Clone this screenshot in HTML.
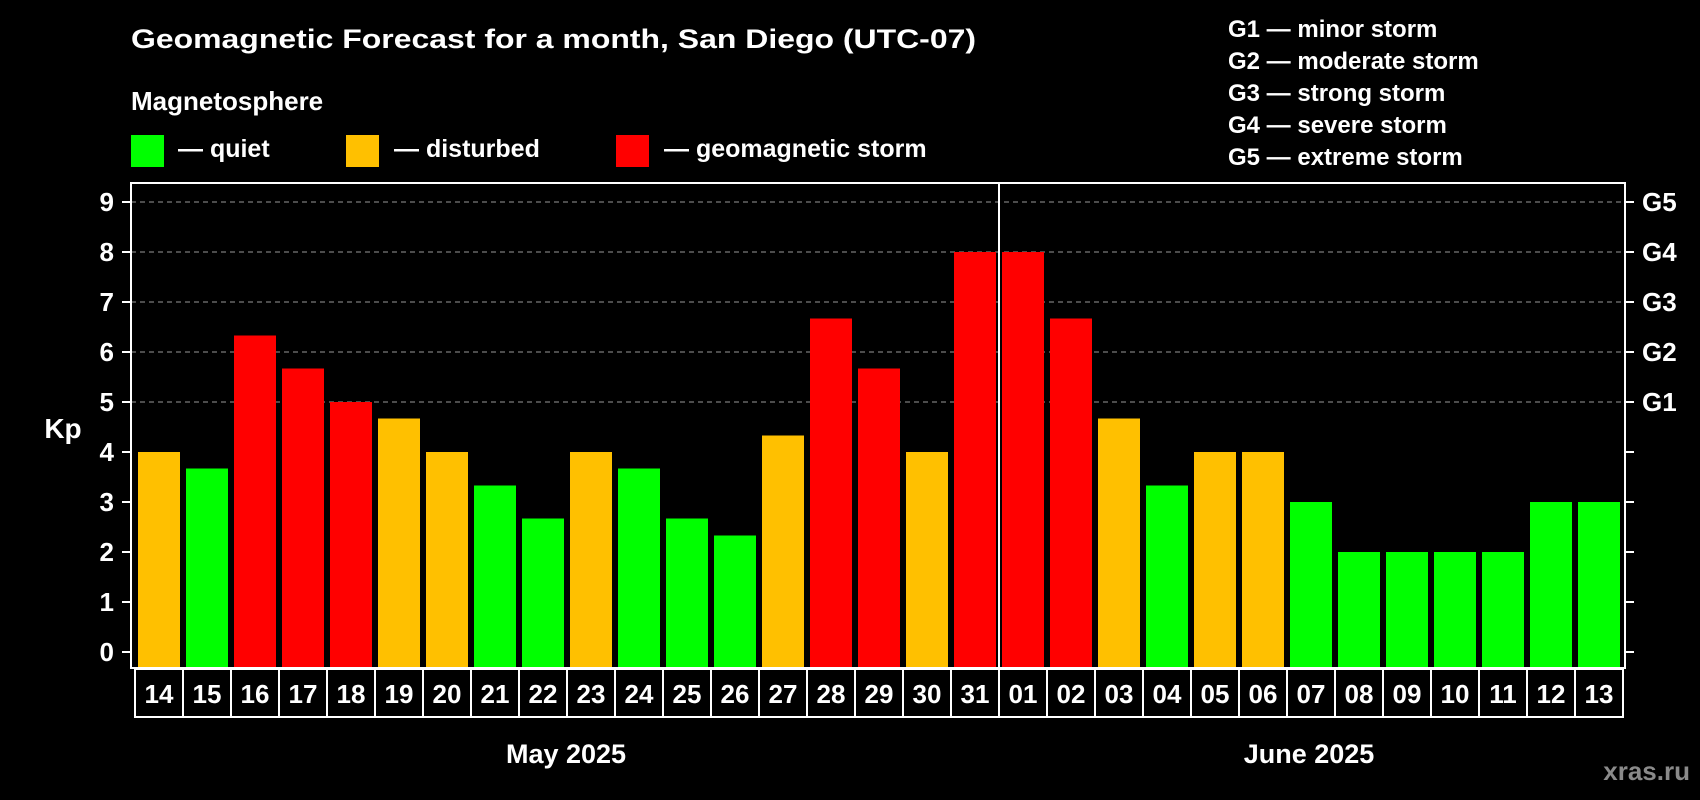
<!DOCTYPE html>
<html><head><meta charset="utf-8"><style>
html,body{margin:0;padding:0;background:#000;}
svg{display:block;font-family:"Liberation Sans",Arial,sans-serif;font-weight:bold;}
</style></head><body>
<svg id="chart" width="1700" height="800" viewBox="0 0 1700 800" xmlns="http://www.w3.org/2000/svg">
<rect x="0" y="0" width="1700" height="800" fill="#000"/>
<text x="131" y="48" fill="#fff" font-size="27" textLength="845" lengthAdjust="spacingAndGlyphs">Geomagnetic Forecast for a month, San Diego (UTC-07)</text>
<text x="131" y="110" fill="#fff" font-size="26">Magnetosphere</text>
<g><rect x="131" y="135" width="33" height="32" fill="#00ff00"/><text x="178" y="157" fill="#fff" font-size="25">— quiet</text></g>
<g><rect x="346" y="135" width="33" height="32" fill="#ffc000"/><text x="394" y="157" fill="#fff" font-size="25">— disturbed</text></g>
<g><rect x="616" y="135" width="33" height="32" fill="#ff0000"/><text x="664" y="157" fill="#fff" font-size="25">— geomagnetic storm</text></g>
<g fill="#fff" font-size="24">
<text x="1228" y="37">G1 — minor storm</text>
<text x="1228" y="69">G2 — moderate storm</text>
<text x="1228" y="101">G3 — strong storm</text>
<text x="1228" y="133">G4 — severe storm</text>
<text x="1228" y="165">G5 — extreme storm</text>
</g>
<text x="63" y="438" fill="#fff" font-size="28" text-anchor="middle">Kp</text>
<g id="grid"></g><g id="bars"></g><g id="axes"></g>
<text x="566" y="763" fill="#fff" font-size="27" text-anchor="middle">May 2025</text>
<text x="1309" y="763" fill="#fff" font-size="27" text-anchor="middle">June 2025</text>
<text x="1690" y="780" fill="#8a8a8a" font-size="26" text-anchor="end">xras.ru</text>
</svg>
<script>
const days = ["14","15","16","17","18","19","20","21","22","23","24","25","26","27","28","29","30","31","01","02","03","04","05","06","07","08","09","10","11","12","13"];
const kpValues = [4,3.67,6.33,5.67,5,4.67,4,3.33,2.67,4,3.67,2.67,2.33,4.33,6.67,5.67,4,8,8,6.67,4.67,3.33,4,4,3,2,2,2,2,3,3];
const yTicks = [0,1,2,3,4,5,6,7,8,9];
const gLabels = ["G1","G2","G3","G4","G5"];
const gLevels = [5,6,7,8,9];
const monthSplit = 18;

const NS="http://www.w3.org/2000/svg";
const svg=document.getElementById('chart');
const PL=131,PR=1625,PT=183,PB=668;
const y=v=>652-50*v;
const x=i=>138+48*i;
const BW=42;
function el(t,a,p){const e=document.createElementNS(NS,t);for(const k in a)e.setAttribute(k,a[k]);p.appendChild(e);return e;}
const grid=document.getElementById('grid'),bars=document.getElementById('bars'),axes=document.getElementById('axes');
gLevels.forEach(v=>{
  const l=el('line',{x1:PL,x2:PR,y1:y(v),y2:y(v),stroke:'#999','stroke-dasharray':'5,4','stroke-width':1},grid);
  
  
});
kpValues.forEach((v,i)=>{
  const c=v>=5?'#ff0000':(v>=4?'#ffc000':'#00ff00');
  const r=el('rect',{x:x(i),y:y(v),width:BW,height:PB-1-y(v),fill:c},bars);
  
  
});
// frame
const f=el('rect',{x:PL,y:PT,width:PR-PL,height:PB-PT,fill:'none',stroke:'#fff','stroke-width':2},axes);


yTicks.forEach(v=>{
  el('line',{x1:PL-9,x2:PL,y1:y(v),y2:y(v),stroke:'#fff','stroke-width':2},axes);
  el('line',{x1:PR,x2:PR+9,y1:y(v),y2:y(v),stroke:'#fff','stroke-width':2},axes);
  const t=el('text',{x:114,y:y(v)+9,fill:'#fff','font-size':26,'text-anchor':'end'},axes);
  
  
  t.textContent=v;
});
gLabels.forEach((g,i)=>{
  const t=el('text',{x:1642,y:y(gLevels[i])+9,fill:'#fff','font-size':26},axes);
  
  
  t.textContent=g;
});
// label cells
const LT=669,LB=717;
const cb=el('rect',{x:135,y:LT,width:PR-2-135,height:LB-LT,fill:'none',stroke:'#fff','stroke-width':2},axes);


days.forEach((d,i)=>{
  if(i>0) el('line',{x1:x(i)-3,x2:x(i)-3,y1:LT,y2:LB,stroke:'#fff','stroke-width':2},axes);
  const t=el('text',{x:x(i)+BW/2,y:703,fill:'#fff','font-size':26,'text-anchor':'middle'},axes);
  
  
  t.textContent=d;
});
const dv=el('line',{x1:x(monthSplit)-3,x2:x(monthSplit)-3,y1:PT,y2:LB,stroke:'#fff','stroke-width':2},axes);


</script>
</body></html>
